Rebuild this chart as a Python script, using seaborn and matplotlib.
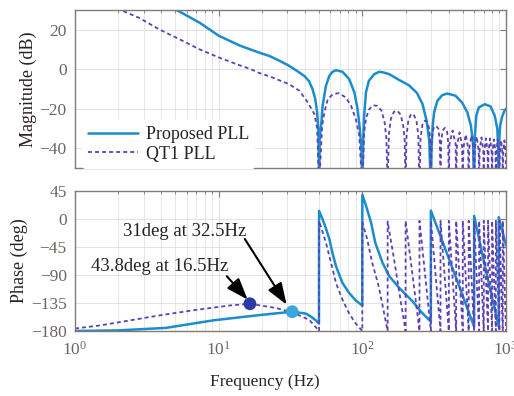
import matplotlib
matplotlib.use("Agg")
import matplotlib.pyplot as plt
import seaborn as sns
from matplotlib.ticker import FixedLocator, LogLocator, NullFormatter

sns.set_theme(style="white")
plt.rcParams["font.family"] = ["Liberation Serif", "DejaVu Serif"]
plt.rcParams["mathtext.fontset"] = "custom"
plt.rcParams["mathtext.rm"] = "Liberation Serif"
plt.rcParams["mathtext.it"] = "Liberation Serif:italic"
plt.rcParams["mathtext.bf"] = "Liberation Serif:bold"

# ---------------- data ----------------
series_names = ["Proposed PLL", "QT1 PLL"]

prop_mag_f = [1, 2, 3, 5.1, 7.4, 10, 14, 19, 22.6, 27, 31, 35, 39.5, 42.5, 45, 47, 48.5, 49.5, 50,
              50.5, 51.9, 52.9, 55.8, 58.9, 62, 65.6, 72.8, 81, 88, 92.6, 96, 98.5, 100,
              101.5, 103, 106, 111, 121, 131, 140, 154, 181, 210, 240, 262, 280, 292, 300,
              303, 309, 316, 333, 360, 390, 445, 494, 538, 570, 590, 600,
              606, 621, 647, 712, 780, 835, 870, 883, 890,
              895, 910, 940, 975, 1000]
prop_mag = [60, 47, 39, 30, 23.5, 17, 12, 8.5, 6.7, 4, 1.7, -0.8, -3.4, -6, -10, -15, -22, -32, -60,
            -35, -26.9, -18.5, -8.4, -3.4, -1.3, -0.5, -1.3, -5, -11.7, -20, -30, -40, -60,
            -35, -23.5, -11.7, -5.9, -2.5, -1.3, -1.6, -2.5, -5.5, -8, -12, -17.5, -26, -36, -60,
            -40, -28.6, -21.8, -16, -13.1, -12.3, -13.4, -16.8, -21.8, -28.6, -38, -60,
            -35, -23.5, -19.3, -17.7, -18.8, -23.5, -30.2, -40, -60,
            -38, -28.6, -24, -21, -20]

qt_mag_f = [1, 1.5, 2, 2.8, 3.9, 5.4, 7.4, 10, 14, 16.4, 19, 22.6, 31, 36.5, 41.7, 46.4, 48.5, 50,
            52.5, 54.5, 57.5, 62.5, 68.5, 76.8, 83.5, 90, 95, 100,
            103, 106, 111, 118, 127, 136, 143, 147, 150,
            153, 158, 166, 175, 185, 193, 197, 200,
            203, 209, 218, 228, 238, 245, 250,
            254, 262, 272, 282, 292, 297, 300,
            304, 312, 325, 338, 346, 350,
            354, 362, 375, 388, 396, 400,
            404, 425, 446, 450,
            455, 475, 495, 500,
            505, 525, 545, 550,
            555, 575, 595, 600,
            605, 625, 645, 650,
            655, 675, 695, 700,
            705, 725, 745, 750,
            755, 775, 795, 800,
            805, 825, 845, 850,
            855, 875, 895, 900,
            905, 925, 945, 950,
            955, 975, 995, 1000]
qt_mag = [41, 35, 30.5, 26, 20, 15, 10, 6, 2, 0.3, -1.8, -3.6, -7.6, -10.9, -16.8, -22.7, -30, -60,
          -28.6, -21.8, -15.1, -12.6, -12.1, -14.3, -18.5, -25.2, -33, -60,
          -32, -25, -20.5, -18.3, -18.5, -21, -27, -35, -60,
          -33, -25, -21.5, -21, -23, -29, -36, -60,
          -34, -26, -22.7, -23, -26, -33, -60,
          -35, -28, -26, -26.5, -30, -36, -60,
          -36, -30, -28.6, -30, -36, -60,
          -37, -31, -29.7, -31, -37, -60,
          -38, -31, -38, -60,
          -39, -32, -39, -60,
          -40, -33, -40, -60,
          -40, -33.5, -40, -60,
          -41, -34, -41, -60,
          -41, -34.5, -41, -60,
          -42, -35, -42, -60,
          -42, -35, -42, -60,
          -42, -35.5, -42, -60,
          -43, -35.5, -43, -60,
          -43, -36, -43, -60,
          -43, -36, -43, -60]

prop_ph_f = [1, 2, 4.3, 9.1, 14, 20, 32.5, 40.4, 44, 47.5, 49.9,
             50, 52.8, 55.8, 58.9, 62, 65.6, 72.8, 81, 90, 99.9,
             100, 106, 115, 123, 138, 154, 181, 225, 256, 299.9,
             300, 424, 599.9,
             600, 726, 889.9,
             890, 1000]
prop_ph = [-180, -179, -175, -163, -158, -154, -149, -152, -157, -163, -168,
           13, 0, -15, -32, -55, -76, -103, -119, -131, -139,
           39, 21.6, -5.5, -38, -70, -92, -111, -133, -149, -165,
           13.5, -79, -173,
           5, -84, -173,
           3, -42]

qt_ph_f = [1, 1.5, 2.4, 4.1, 7, 11.9, 16.5, 25, 32.5, 42.7, 47.5, 50,
           50, 55.8, 60.5, 65.6, 72.8, 81, 90, 100,
           100, 108, 117, 130, 140, 150,
           150, 165, 180, 200,
           200, 225, 250,
           250, 275, 300,
           300, 325, 350,
           350, 375, 400,
           400, 425, 450,
           450, 475, 500,
           500, 525, 550,
           550, 575, 600,
           600, 625, 650,
           650, 675, 700,
           700, 725, 750,
           750, 775, 800,
           800, 825, 850,
           850, 875, 900,
           900, 925, 950,
           950, 975, 1000]
qt_ph = [-176, -171, -163, -154, -146, -139, -136.2, -143, -150, -162, -174, -180,
         -3, -38, -70, -103, -130, -152, -168, -180,
         -5, -32, -70, -108, -145, -180,
         -4, -60, -115, -180,
         -3, -95, -180,
         -3, -95, -180,
         -3, -95, -180,
         -3, -95, -180,
         -3, -95, -180,
         -3, -95, -180,
         -3, -95, -180,
         -3, -95, -180,
         -3, -95, -180,
         -3, -95, -180,
         -3, -95, -180,
         -3, -95, -180,
         -3, -95, -180,
         -3, -95, -180,
         -3, -95, -180,
         -3, -95, -180]

marker_f = [16.5, 32.5]
marker_ph = [-136.2, -149]
annot_texts = ["43.8deg at 16.5Hz", "31deg at 32.5Hz"]

mag_ticks = [-40, -20, 0, 20]
ph_ticks = [-180, -135, -90, -45, 0, 45]
freq_ticks = [1, 10, 100, 1000]
freq_ticklabels = ["$10^{0}$", "$10^{1}$", "$10^{2}$", "$10^{3}$"]

# ---------------- styling ----------------
c_prop = "#1b8ccc"
c_qt = "#5a42b4"
c_dark_marker = "#2b3aa6"
c_light_marker = "#3aa6df"
frame_c = "#857a73"
tick_c = "#6f6560"
label_c = "#2a2222"
grid_c = "#e2e2e2"

W, H = 514, 396
fig = plt.figure(figsize=(W / 100, H / 100), dpi=100)
L, R = 75, 506
ax1 = fig.add_axes([L / W, 1 - 168 / H, (R - L) / W, (168 - 10) / H])
ax2 = fig.add_axes([L / W, 1 - 331 / H, (R - L) / W, (331 - 191) / H])

for ax in (ax1, ax2):
    ax.set_xscale("log")

# magnitude
sns.lineplot(x=prop_mag_f, y=prop_mag, ax=ax1, estimator=None, sort=False,
             color=c_prop, linewidth=1.8, label=series_names[0])
sns.lineplot(x=qt_mag_f, y=qt_mag, ax=ax1, estimator=None, sort=False,
             color=c_qt, linewidth=1.3, linestyle=(0, (2.2, 1.7)), label=series_names[1])

# phase
sns.lineplot(x=prop_ph_f, y=prop_ph, ax=ax2, estimator=None, sort=False,
             color=c_prop, linewidth=1.8, legend=False)
sns.lineplot(x=qt_ph_f, y=qt_ph, ax=ax2, estimator=None, sort=False,
             color=c_qt, linewidth=1.3, linestyle=(0, (2.2, 1.7)), legend=False)
sns.scatterplot(x=marker_f, y=marker_ph, ax=ax2, hue=[0, 1],
                palette=[c_dark_marker, c_light_marker], s=85, edgecolor="none",
                legend=False, zorder=5)

ax1.set_ylim(-50, 30)
ax2.set_ylim(-180, 45)
for ax in (ax1, ax2):
    ax.set_xlim(1, 1000)
    ax.xaxis.set_major_locator(FixedLocator(freq_ticks))
    ax.xaxis.set_minor_locator(LogLocator(base=10, subs=range(2, 10)))
    ax.xaxis.set_minor_formatter(NullFormatter())
    ax.grid(True, which="major", color=grid_c, linewidth=0.7)
    ax.grid(True, which="minor", color=grid_c, linewidth=0.6)
    ax.set_axisbelow(True)
    for sp in ax.spines.values():
        sp.set_color(frame_c)
        sp.set_linewidth(1.0)
        sp.set_visible(True)
    ax.tick_params(which="both", direction="in", top=True, right=True,
                   color=frame_c, labelcolor=tick_c, labelsize=12.5, pad=6)
    ax.tick_params(which="major", length=4, width=0.8)
    ax.tick_params(which="minor", length=2, width=0.6)

ax1.set_yticks(mag_ticks)
ax1.set_xticklabels([])
ax1.set_xlabel("")
ax2.set_yticks(ph_ticks)
ax2.set_xticklabels(freq_ticklabels)
ax2.tick_params(axis="x", pad=7)

ax1.set_ylabel("Magnitude (dB)", fontsize=13, color=label_c)
ax1.yaxis.set_label_coords(-0.088, 0.5)
ax2.set_ylabel("Phase (deg)", fontsize=13, color=label_c)
ax2.yaxis.set_label_coords(-0.109, 0.5)
ax2.set_xlabel("Frequency (Hz)", fontsize=12.5, color=label_c)
ax2.xaxis.set_label_coords(0.44, -0.31)

leg = ax1.legend(loc="lower left", bbox_to_anchor=(0.017, 0.0), frameon=True,
                 facecolor="white", edgecolor="white", framealpha=1, fontsize=13,
                 handlelength=2.8, handletextpad=0.4, labelspacing=0.15,
                 borderpad=0.3, borderaxespad=0.0)
for t in leg.get_texts():
    t.set_color(label_c)

# annotations
ax2.text(3.89, -76, annot_texts[0], fontsize=13.5, color=label_c, ha="center", va="center")
ax2.text(5.8, -20.6, annot_texts[1], fontsize=13.5, color=label_c, ha="center", va="center")
arrow_kw = dict(arrowstyle="-|>,head_length=1.1,head_width=0.4", color="black", lw=1.5,
                shrinkA=0, shrinkB=0)
ax2.annotate("", xy=(15.9, -129.5), xytext=(11.4, -92), arrowprops=arrow_kw)
ax2.annotate("", xy=(29.7, -137.6), xytext=(15.2, -32), arrowprops=arrow_kw)

fig.savefig("out.png", dpi=100)
